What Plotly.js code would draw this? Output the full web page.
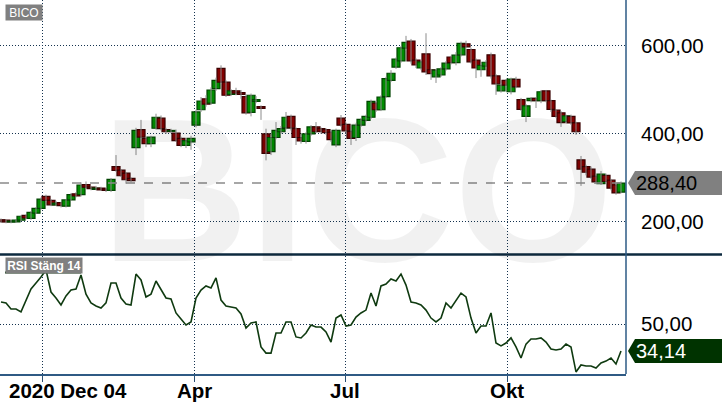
<!DOCTYPE html>
<html><head><meta charset="utf-8">
<script src="https://cdn.plot.ly/plotly-3.0.1.min.js"></script>
<style>html,body{margin:0;padding:0;background:#fff;}#chart{width:722px;height:410px;}</style>
</head><body><div id="chart"></div>
<script>
const symbol = 'BICO';
const rsiLabel = 'RSI Stäng 14';
const tickPos = [8.2, 38.6, 68.8, 101.2];
const tickText = ['2020 Dec 04', 'Apr', 'Jul', 'Okt'];
const priceTicks = [200, 400, 600];
const rsiTicks = [50];

const open = [205,204,200,200,204,215,208,220,231,258,
249,239,244,236,250,264,262,285,279,274,
277,275,272,326,318,311,299,369,410,390,
378,413,436,410,406,402,390,374,382,420,
455,480,470,503,549,518,490,498,494,485,
449,474,462,400,360,392,405,414,440,412,
392,383,400,416,412,410,404,375,436,422,
406,392,420,431,438,470,455,485,522,552,
566,595,611,568,550,582,546,530,534,548,
575,562,580,605,592,568,546,554,580,532,
498,522,496,524,478,440,476,481,476,498,
476,454,448,428,440,425,341,326,320,304,
287,306,295,284,268];
const close = [201,200,202,204,213,209,222,231,252,249,
239,243,237,250,262,259,284,279,276,277,
273,272,297,317,305,296,294,408,393,378,
393,438,412,405,408,385,374,385,390,450,
475,468,500,522,518,488,498,493,490,448,
488,478,458,356,392,408,412,438,414,392,
384,400,416,405,406,403,387,408,420,407,
390,420,433,440,474,455,484,526,538,570,
596,608,566,557,564,541,537,545,548,561,
562,579,606,598,564,550,556,563,532,514,
511,511,525,507,456,464,481,476,496,476,
456,440,426,441,425,405,320,313,302,291,
309,292,277,266,288.4];
const high = [208,206,204,206,215,217,225,234,256,262,
252,248,246,252,266,268,290,292,282,282,
280,278,300,352,320,313,301,414,432,392,
396,446,442,414,412,410,394,390,396,455,
484,488,506,528,556,522,502,505,500,490,
492,486,465,412,396,427,418,450,444,415,
398,404,420,427,415,413,408,412,443,426,
408,424,436,444,478,475,488,530,545,574,
600,623,616,572,566,629,548,548,552,566,
578,586,610,612,596,572,560,568,585,536,
515,525,528,530,482,468,484,484,500,500,
478,456,452,444,444,428,350,330,326,307,
316,310,298,290,292];
const low = [198,197,197,198,202,206,205,218,228,246,
236,237,233,233,248,256,258,276,272,272,
271,268,268,314,302,287,290,352,388,370,
370,410,408,400,402,382,370,368,364,415,
450,462,466,498,514,484,486,488,480,444,
440,470,432,340,352,388,400,410,408,375,
378,378,396,402,400,398,382,370,416,400,
375,384,416,428,434,450,452,482,518,548,
562,590,560,550,545,534,523,516,530,544,
558,556,576,594,560,527,530,548,526,489,
494,508,490,504,452,427,472,459,470,472,
450,436,416,424,420,398,282,306,298,286,
284,288,272,262,265];
const rsi = [62.9,62.4,58.8,58.8,57.1,64.1,70.6,74.1,77.6,81.8,
68.8,65.3,61.2,66.5,70.0,70.6,78.8,67.6,62.4,60.6,
59.4,62.4,74.1,74.1,65.3,61.8,61.2,79.4,75.9,65.9,
67.6,75.3,70.6,65.3,64.7,56.5,52.9,49.4,51.2,65.3,
70.0,72.4,71.2,77.1,64.1,60.6,60.0,59.4,55.9,47.6,
50.6,51.2,36.5,32.9,32.9,44.7,44.7,51.2,51.2,42.4,
41.8,44.7,49.4,48.2,48.2,45.3,39.4,53.5,55.3,48.8,
49.4,54.1,56.5,58.2,68.2,60.6,72.4,73.5,76.5,75.3,
79.4,72.9,62.9,62.4,61.2,58.2,53.5,51.2,53.5,62.4,
59.4,63.5,68.2,65.9,53.5,44.7,48.8,48.8,56.5,38.8,
37.1,38.8,41.8,36.5,30.0,38.2,41.2,41.2,41.8,39.4,
35.3,34.7,35.3,38.2,36.5,21.8,25.9,25.3,25.3,24.1,
27.1,28.2,30.0,26.5,34.14];

const idx = close.map((_, i) => i);
const bodyLow = open.map((o, i) => Math.min(o, close[i]));
const bodyH = open.map((o, i) => Math.abs(close[i] - o));
const up = open.map((o, i) => close[i] >= o);
const wickX = [], wickY = [];
idx.forEach(i => { wickX.push(i, i, null); wickY.push(low[i], high[i], null); });
const last = close.length - 1;
const fmt = v => v.toFixed(2).replace('.', ',');

const FONT = 'Arial, "Liberation Sans", sans-serif';
const GRID = '#14324f';
const GDASH = '1px,2px';
const PW = 626, PH = 374;

const traces = [
  {type:'scatter', mode:'lines', x:wickX, y:wickY, xaxis:'x', yaxis:'y',
   line:{color:'#8c8c8c', width:1}, hoverinfo:'skip', showlegend:false},
  {type:'bar', x:idx, y:bodyH, base:bodyLow, width:1.6, xaxis:'x', yaxis:'y',
   marker:{color:up.map(u => u ? '#008c00' : '#820000'),
           line:{color:up.map(u => u ? '#004400' : '#3a0000'), width:1.2}},
   hoverinfo:'skip', showlegend:false},
  {type:'scatter', mode:'lines', x:idx, y:rsi, xaxis:'x2', yaxis:'y2',
   line:{color:'#0f3a10', width:1.6}, hoverinfo:'skip', showlegend:false}
];

const dateAnn = tickText.map((t, i) => i === 0
  ? {text:t, xref:'paper', yref:'paper', x:7/PW, y:(PH-390.5)/PH, xanchor:'left', yanchor:'middle',
     showarrow:false, font:{family:FONT, size:20.5, weight:'bold', color:'#000'}}
  : {text:t, xref:'x2', yref:'paper', x:tickPos[i], y:(PH-390.5)/PH, xanchor:'center', yanchor:'middle',
     showarrow:false, font:{family:FONT, size:20.5, weight:'bold', color:'#000'}});

const layout = {
  width:722, height:410, margin:{l:0, r:96, t:0, b:36},
  paper_bgcolor:'#fff', plot_bgcolor:'#fff',
  separators:',.', showlegend:false, barmode:'overlay',
  font:{family:FONT, color:'#000'},
  xaxis:{domain:[0,1], anchor:'y', range:[-0.2,125], tickvals:tickPos, showticklabels:false,
    showgrid:true, gridcolor:GRID, griddash:GDASH, gridwidth:1, zeroline:false, ticks:'',
    fixedrange:true},
  yaxis:{domain:[(PH-254)/PH,1], anchor:'x', side:'right', range:[127.2,704.5],
    tickvals:priceTicks, tickformat:'.2f', showgrid:true, gridcolor:GRID, griddash:GDASH,
    zeroline:false, ticks:'', ticklabelstandoff:14, tickfont:{size:20.5, color:'#000'}},
  xaxis2:{domain:[0,1], anchor:'y2', range:[-0.2,125], tickvals:tickPos, showticklabels:false,
    showgrid:true, gridcolor:GRID, griddash:GDASH, zeroline:false,
    ticks:'outside', ticklen:6, tickcolor:'#2b4f72', tickwidth:1,
    showline:true, linecolor:'#2f5a84', linewidth:1.5},
  yaxis2:{domain:[0,(PH-256)/PH], anchor:'x2', side:'right', range:[20.6,90],
    tickvals:rsiTicks, tickformat:'.2f', showgrid:true, gridcolor:GRID, griddash:GDASH,
    zeroline:false, ticks:'', ticklabelstandoff:14, tickfont:{size:20.5, color:'#000'}},
  shapes:[
    {type:'line', xref:'paper', yref:'paper', x0:0, x1:722/PW, y0:(PH-254.5)/PH, y1:(PH-254.5)/PH,
     line:{color:'#0d2a3f', width:2.5}},
    {type:'line', xref:'paper', yref:'paper', x0:1, x1:1, y0:0, y1:1,
     line:{color:'#2d5a85', width:1.5}},
    {type:'line', xref:'paper', yref:'y', x0:0, x1:1, y0:close[last], y1:close[last],
     line:{color:'#8a8a8a', width:1.5, dash:'dash'}},
    {type:'path', xref:'paper', xsizemode:'pixel', xanchor:1, yref:'y', ysizemode:'pixel', yanchor:close[last],
     path:'M2,0 L9,12 L96,12 L96,-12 L9,-12 Z', fillcolor:'#808080', line:{width:0}},
    {type:'path', xref:'paper', xsizemode:'pixel', xanchor:1, yref:'y2', ysizemode:'pixel', yanchor:rsi[last],
     path:'M2,0 L9,12 L96,12 L96,-12 L9,-12 Z', fillcolor:'#003300', line:{width:0}},
    {type:'line', xref:'paper', yref:'paper', x0:5/PW, x1:81/PW, y0:(PH-272.5)/PH, y1:(PH-272.5)/PH,
     line:{color:'#0f3a10', width:2}}
  ],
  annotations:[
    {text:symbol, xref:'paper', yref:'paper', x:357/PW, y:(PH-189)/PH, xanchor:'center', yanchor:'middle',
     showarrow:false, font:{family:FONT, size:205, weight:'bold', color:'rgba(0,0,0,0.055)'}},
    {text:symbol, xref:'paper', yref:'paper', x:5/PW, y:(PH-4)/PH, xanchor:'left', yanchor:'top',
     showarrow:false, width:36, height:15, borderpad:0, bgcolor:'#808080',
     font:{family:FONT, size:12, color:'#fff'}},
    {text:rsiLabel, xref:'paper', yref:'paper', x:5/PW, y:(PH-257)/PH, xanchor:'left', yanchor:'top',
     showarrow:false, width:76, height:15, borderpad:0, bgcolor:'#808080',
     font:{family:FONT, size:12, weight:'bold', color:'#fff'}},
    {text:fmt(close[last]), xref:'paper', yref:'y', x:634/PW, y:close[last], xanchor:'left', yanchor:'middle',
     showarrow:false, font:{family:FONT, size:20, color:'#000'}},
    {text:fmt(rsi[last]), xref:'paper', yref:'y2', x:634/PW, y:rsi[last], xanchor:'left', yanchor:'middle',
     showarrow:false, font:{family:FONT, size:20, color:'#fff'}}
  ].concat(dateAnn)
};

Plotly.newPlot('chart', traces, layout, {staticPlot:true, displayModeBar:false});
</script>
</body></html>
